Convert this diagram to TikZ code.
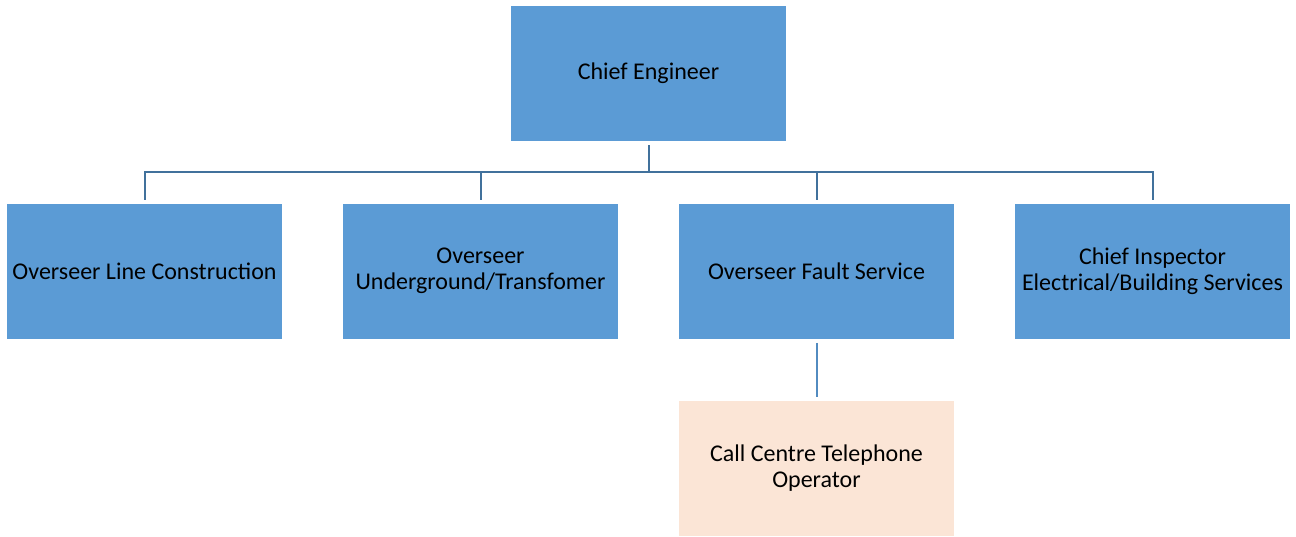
\documentclass[tikz,border=0pt]{standalone}
\usepackage{fontspec}
\setmainfont{Carlito}
\usetikzlibrary{calc}
\usetikzlibrary{positioning}
\definecolor{boxblue}{HTML}{5B9BD5}
\definecolor{linkblue}{HTML}{41719C}
\definecolor{peach}{HTML}{FBE5D6}
\tikzset{
    orgnode/.style = {align=center, inner sep=0pt, text centered,
        font=\fontsize{18pt}{19.5pt}\selectfont, minimum width=206.25pt, minimum height=101.25pt},
    org_b/.style = {orgnode, rectangle, fill=boxblue},% poste principal
    org_p/.style = {orgnode, rectangle, fill=peach},% poste subordonne
    link/.style = {draw=linkblue, line width=1.5pt, shorten <=3pt, shorten >=2.25pt},
}

\begin{document}
\begin{tikzpicture}[x=0.75pt,y=-0.75pt]
\useasboundingbox (0,0) rectangle (1296,536);
\node [org_b] (chief) at (648.5,73.5) {Chief Engineer};
\node [org_b] (line) at (144.5,271) {Overseer Line Construction};
\node [org_b] (under) at (480.5,271) {Overseer\\Underground/Transfomer};
\node [org_b] (fault) at (816.5,271) {Overseer Fault Service};
\node [org_b] (insp) at (1152.5,271) {Chief Inspector\\Electrical/Building Services};
\node [org_p] (call) at (816.5,468) {Call Centre Telephone\\Operator};
\coordinate (bus) at (648.5,172);
\foreach \c in {line,under,fault,insp}
    \draw [link] (chief.south) -- (chief.south |- bus) -| (\c.north);
\draw [link, draw=boxblue!90!black] (fault.south) -- (call.north);
\end{tikzpicture}
\end{document}
